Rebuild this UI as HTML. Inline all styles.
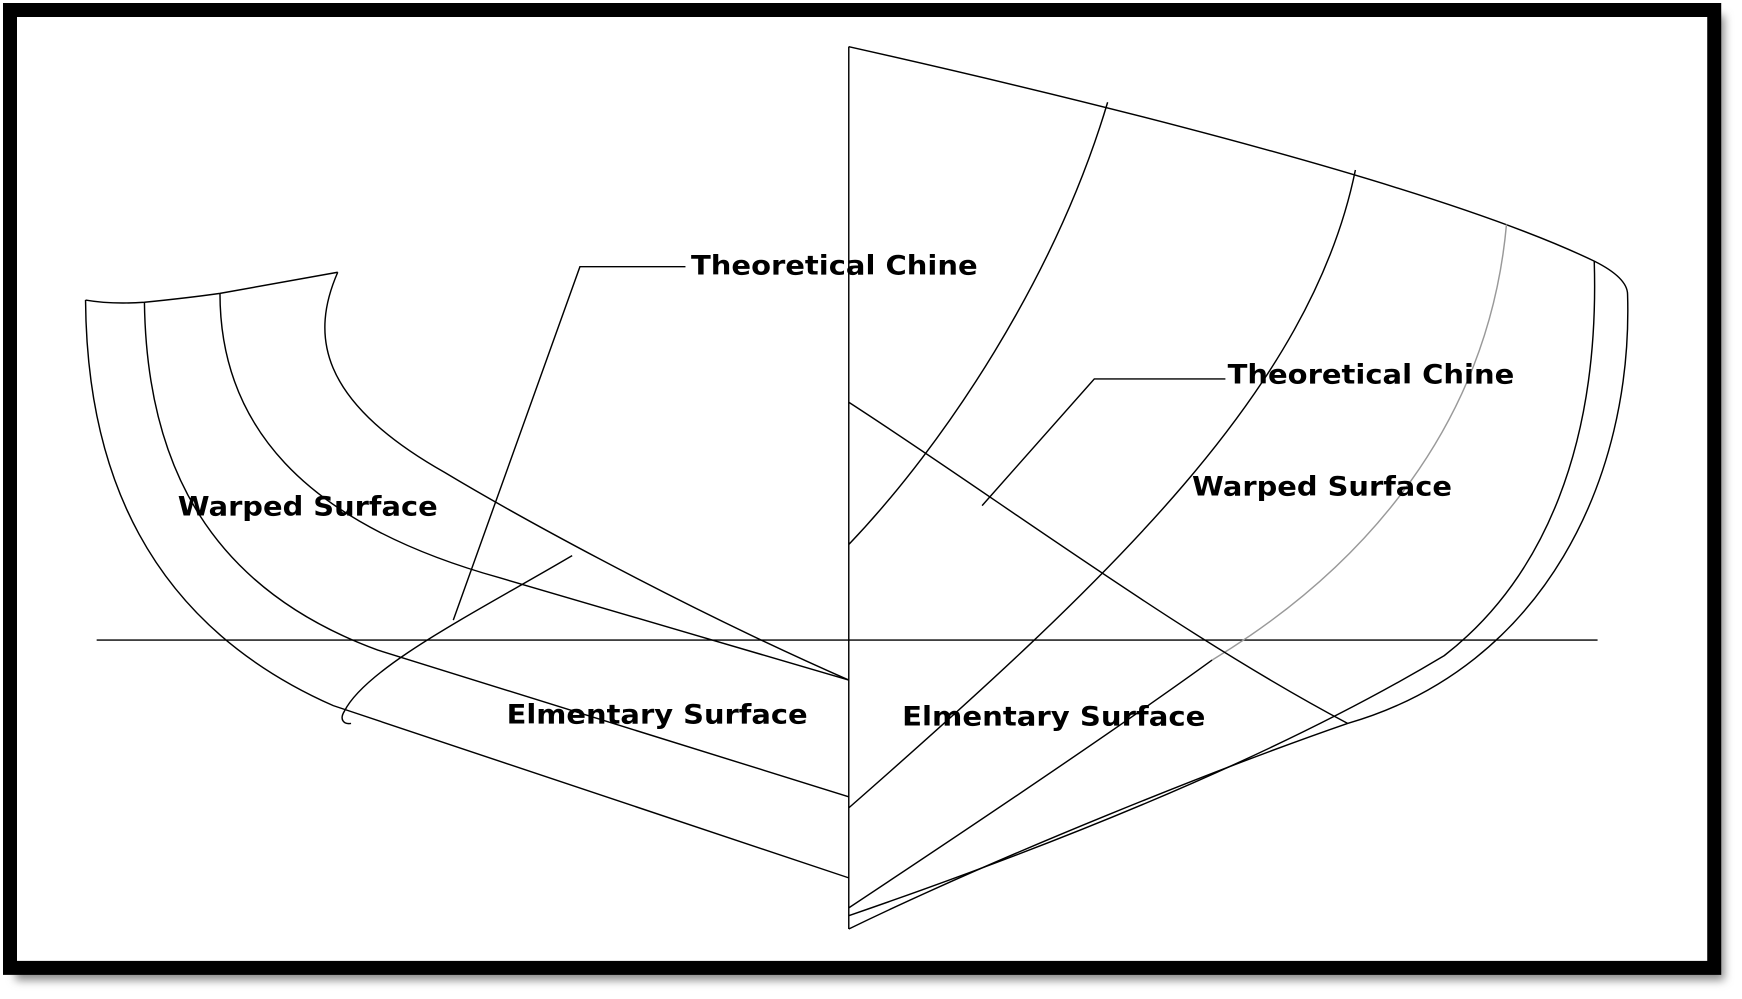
<!DOCTYPE html>
<html><head><meta charset="utf-8"><style>
html,body{margin:0;padding:0;background:#fff;width:1742px;height:999px;overflow:hidden}
svg{display:block}
text{font-family:"DejaVu Sans","Liberation Sans",sans-serif;font-weight:bold;fill:#000}
</style></head><body>
<svg width="1742" height="999" viewBox="0 0 1568 899" preserveAspectRatio="none">
<defs><filter id="sh" x="-5%" y="-5%" width="110%" height="110%"><feGaussianBlur stdDeviation="4"/></filter></defs>
<rect x="14" y="14" width="1538" height="868" fill="#888" filter="url(#sh)"/>
<rect x="9" y="9" width="1534" height="862" fill="#fff" stroke="#000" stroke-width="12.6"/>
<g fill="none" stroke="#000" stroke-width="1.3">
<line x1="87" y1="576" x2="1438" y2="576"/>
<line x1="764" y1="42" x2="764" y2="836"/>
<path d="M77,270 Q100,274 130,272 Q170,268 198,264 L304,245"/>
<path d="M77,270 C78,420 130,560 300,635 L764,790"/>
<path d="M130,272 C132,420 190,530 340,585 L764,717"/>
<path d="M198,264 C198,380 270,470 450,520 L764,612"/>
<path d="M304,245 C280,300 285,360 400,425 C450,455 600,540 764,612"/>
<path d="M408,558 L522,240 L617,240"/>
<path d="M515,500 C430,550 330,600 310,640 C305,648 310,652 316,651"/>
<path d="M764,42 C1000,95 1300,170 1435,235 Q1465,250 1465,265 C1470,430 1390,600 1213,651 C1100,690 900,770 764,836"/>
<path d="M997,92 C950,250 850,400 764,490"/>
<path d="M1220,153 C1180,350 1000,520 764,727"/>
<path d="M1356,202 C1340,380 1230,510 1091,594" stroke="#999"/>
<path d="M1091,594 C1000,660 850,760 764,817"/>
<path d="M1435,235 C1440,400 1390,520 1300,590 C1150,680 950,760 764,824"/>
<path d="M764,362 C900,450 1060,570 1213,651"/>
<path d="M884,455 L985,341 L1103,341"/>
</g>
<text x="160" y="464" font-size="24" textLength="234" lengthAdjust="spacingAndGlyphs">Warped Surface</text>
<text x="622" y="247" font-size="24" textLength="258" lengthAdjust="spacingAndGlyphs">Theoretical Chine</text>
<text x="1105" y="345" font-size="24" textLength="258" lengthAdjust="spacingAndGlyphs">Theoretical Chine</text>
<text x="1073" y="446" font-size="24" textLength="234" lengthAdjust="spacingAndGlyphs">Warped Surface</text>
<text x="456" y="651" font-size="24" textLength="271" lengthAdjust="spacingAndGlyphs">Elmentary Surface</text>
<text x="812" y="653" font-size="24" textLength="273" lengthAdjust="spacingAndGlyphs">Elmentary Surface</text>
</svg>
</body></html>
